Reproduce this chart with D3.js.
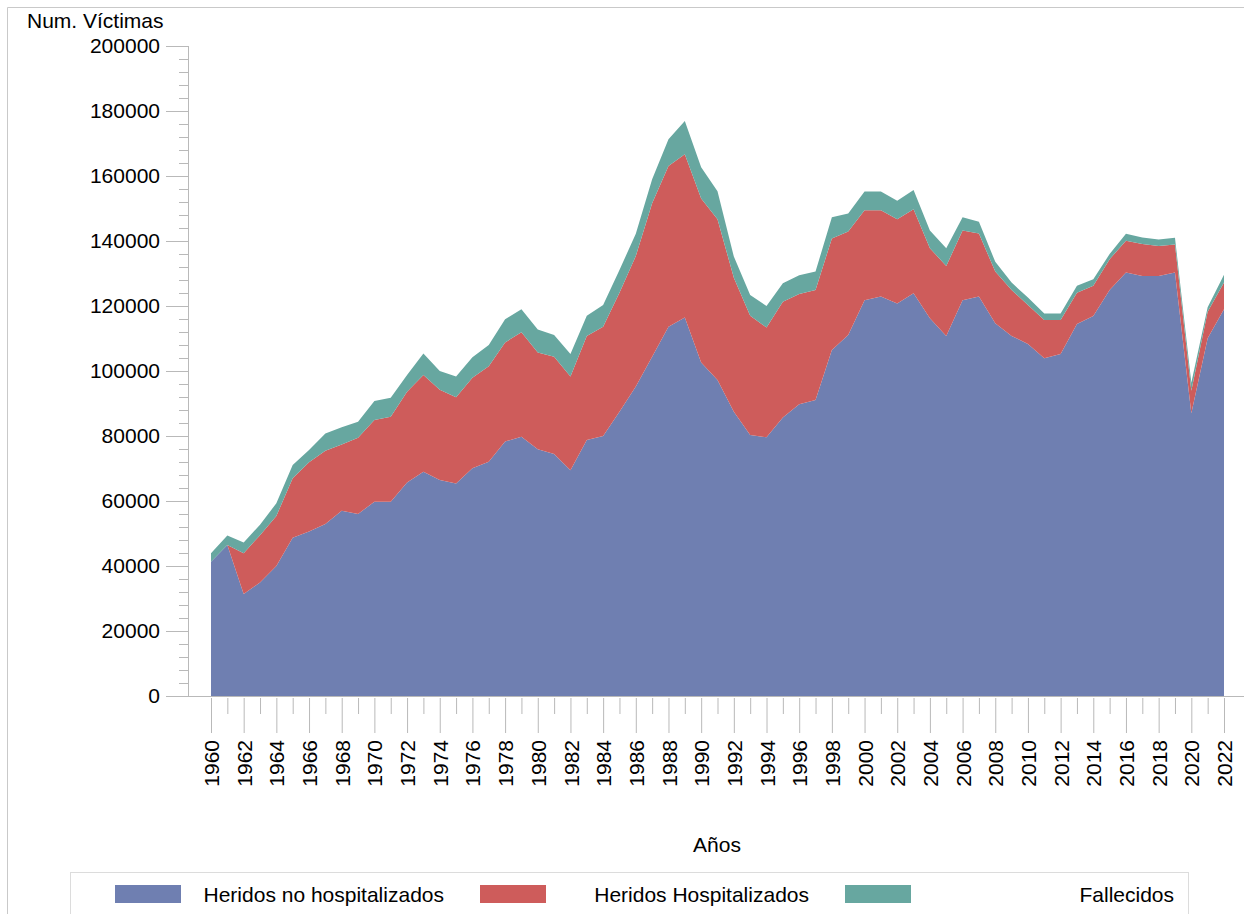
<!DOCTYPE html>
<html>
<head>
<meta charset="utf-8">
<script src="https://cdn.jsdelivr.net/npm/d3@7"></script>
<style>
  body { margin: 0; background: #fff; }
  text { font-family: "Liberation Sans", Arial, sans-serif; fill: #000; }
</style>
</head>
<body>
<svg id="chart" width="1244" height="914"></svg>
<script>
// Víctimas de accidentes de tráfico, 1960-2022
var years = d3.range(1960, 2023);

var heridosNoHosp = [
  41300, 46500, 31400, 34900, 40000, 48700, 50600, 52900, 57000, 56000,
  59800, 59800, 65700, 69000, 66500, 65400, 70100, 72100, 78300, 79800,
  75900, 74500, 69500, 78800, 80000, 87500, 95200, 104400, 113600, 116500,
  102600, 97200, 87500, 80300, 79600, 85700, 89800, 91100, 106500, 111100,
  121800, 122900, 120800, 123900, 116200, 110800, 121800, 122900, 114700, 110800,
  108300, 103900, 105200, 114500, 116900, 124900, 130300, 129200, 129200, 130300,
  87000, 110100, 119000
];

var heridosHosp = [
  0, 0, 12500, 14600, 15400, 18300, 21300, 22600, 20400, 23500,
  25100, 26100, 27900, 29800, 27700, 26500, 27800, 29400, 30500, 32100,
  29800, 29900, 28800, 32000, 33600, 36600, 40200, 47200, 49500, 50200,
  50500, 49500, 41200, 36700, 33800, 35600, 33900, 33800, 34300, 31800,
  27700, 26600, 25900, 25900, 21600, 21500, 21400, 19400, 15900, 14100,
  12000, 11800, 10500, 9600, 9300, 9500, 9800, 9900, 9300, 8600,
  6900, 8100, 8200
];

var fallecidos = [
  2600, 2900, 3300, 3200, 3900, 4100, 3800, 5300, 5300, 4900,
  5900, 5900, 5200, 6600, 5800, 6400, 6300, 6500, 7100, 7100,
  7100, 6700, 6900, 6200, 6700, 7000, 6800, 7400, 8200, 10200,
  9600, 8600, 6500, 6400, 6600, 5700, 5800, 5700, 6500, 5600,
  5700, 5700, 5700, 5900, 5400, 5500, 4100, 3600, 3000, 2300,
  2300, 2000, 2000, 2100, 2000, 1600, 2100, 2000, 2000, 2100,
  2500, 1400, 2400
];

var seriesKeys = ['noHosp', 'hosp', 'fall'];
var seriesNames = ['Heridos no hospitalizados', 'Heridos Hospitalizados', 'Fallecidos'];
var seriesColors = ['#6f7fb1', '#ce5c5b', '#67a7a0'];

var yMajorTicks = d3.range(0, 200001, 20000);
var yMinorTicks = d3.range(0, 200001, 4000);
var xLabelYears = years.filter(function(d) { return d % 2 === 0; });
var xMinorYears = years.filter(function(d) { return d % 2 !== 0; });

var svg = d3.select('#chart');
var axisColor = '#b9b9b9';
var fontSize = '21px';

// outer frame
svg.append('path')
  .attr('d', 'M7.5,914 V7.5 H1260')
  .attr('fill', 'none')
  .attr('stroke', '#c9c9c9');

var x = d3.scaleLinear().domain([1960, 2022]).range([211, 1224]);
var y = d3.scaleLinear().domain([0, 200000]).range([696, 46]);

var table = years.map(function(yr, i) {
  return { year: yr, noHosp: heridosNoHosp[i], hosp: heridosHosp[i], fall: fallecidos[i] };
});

var stacked = d3.stack().keys(seriesKeys)(table);

var area = d3.area()
  .x(function(d) { return x(d.data.year); })
  .y0(function(d) { return y(d[0]); })
  .y1(function(d) { return y(d[1]); });

svg.append('g').selectAll('path')
  .data(stacked)
  .enter().append('path')
  .attr('d', area)
  .attr('fill', function(d, i) { return seriesColors[i]; });

// y axis
var yMinor = svg.append('g')
  .attr('transform', 'translate(188,0)')
  .call(d3.axisLeft(y).tickValues(yMinorTicks).tickSize(9).tickFormat(''));
var yMajor = svg.append('g')
  .attr('transform', 'translate(188,0)')
  .call(d3.axisLeft(y).tickValues(yMajorTicks).tickSize(22).tickPadding(6).tickFormat(d3.format('d')));

[yMinor, yMajor].forEach(function(g) {
  g.select('.domain').remove();
  g.selectAll('line').attr('stroke', axisColor);
});
yMajor.selectAll('text').attr('font-size', fontSize).attr('fill', '#000');

svg.append('line')
  .attr('x1', 188.5).attr('x2', 188.5)
  .attr('y1', y(200000)).attr('y2', y(0))
  .attr('stroke', axisColor);

// x axis
svg.append('line')
  .attr('x1', 188).attr('x2', 1244)
  .attr('y1', 696.5).attr('y2', 696.5)
  .attr('stroke', axisColor);

var xMinor = svg.append('g')
  .attr('transform', 'translate(0,698)')
  .call(d3.axisBottom(x).tickValues(xMinorYears).tickSize(16).tickFormat(''));
var xMajor = svg.append('g')
  .attr('transform', 'translate(0,698)')
  .call(d3.axisBottom(x).tickValues(xLabelYears).tickSize(35).tickFormat(d3.format('d')));

[xMinor, xMajor].forEach(function(g) {
  g.select('.domain').remove();
  g.selectAll('line').attr('stroke', axisColor);
});
xMajor.selectAll('text')
  .attr('font-size', fontSize)
  .attr('fill', '#000')
  .attr('text-anchor', 'end')
  .attr('transform', 'rotate(-90)')
  .attr('x', -42)
  .attr('y', 0)
  .attr('dy', '0.36em');

// axis titles
svg.append('text')
  .attr('x', 27).attr('y', 28)
  .attr('font-size', fontSize)
  .text('Num. Víctimas');

svg.append('text')
  .attr('x', 717).attr('y', 852)
  .attr('text-anchor', 'middle')
  .attr('font-size', fontSize)
  .text('Años');

// legend
var legend = svg.append('g');
legend.append('rect')
  .attr('x', 70.5).attr('y', 872.5)
  .attr('width', 1118).attr('height', 60)
  .attr('fill', '#fff')
  .attr('stroke', '#dcdcdc');

var item = legend.selectAll('.item')
  .data(seriesNames)
  .enter().append('g')
  .attr('class', 'item')
  .attr('transform', function(d, i) { return 'translate(' + (115 + i * 365) + ',0)'; });

item.append('rect')
  .attr('x', 0).attr('y', 885)
  .attr('width', 66).attr('height', 18)
  .attr('fill', function(d, i) { return seriesColors[i]; });

item.append('text')
  .attr('x', 329).attr('y', 902)
  .attr('text-anchor', 'end')
  .attr('font-size', fontSize)
  .text(function(d) { return d; });
</script>
</body>
</html>
